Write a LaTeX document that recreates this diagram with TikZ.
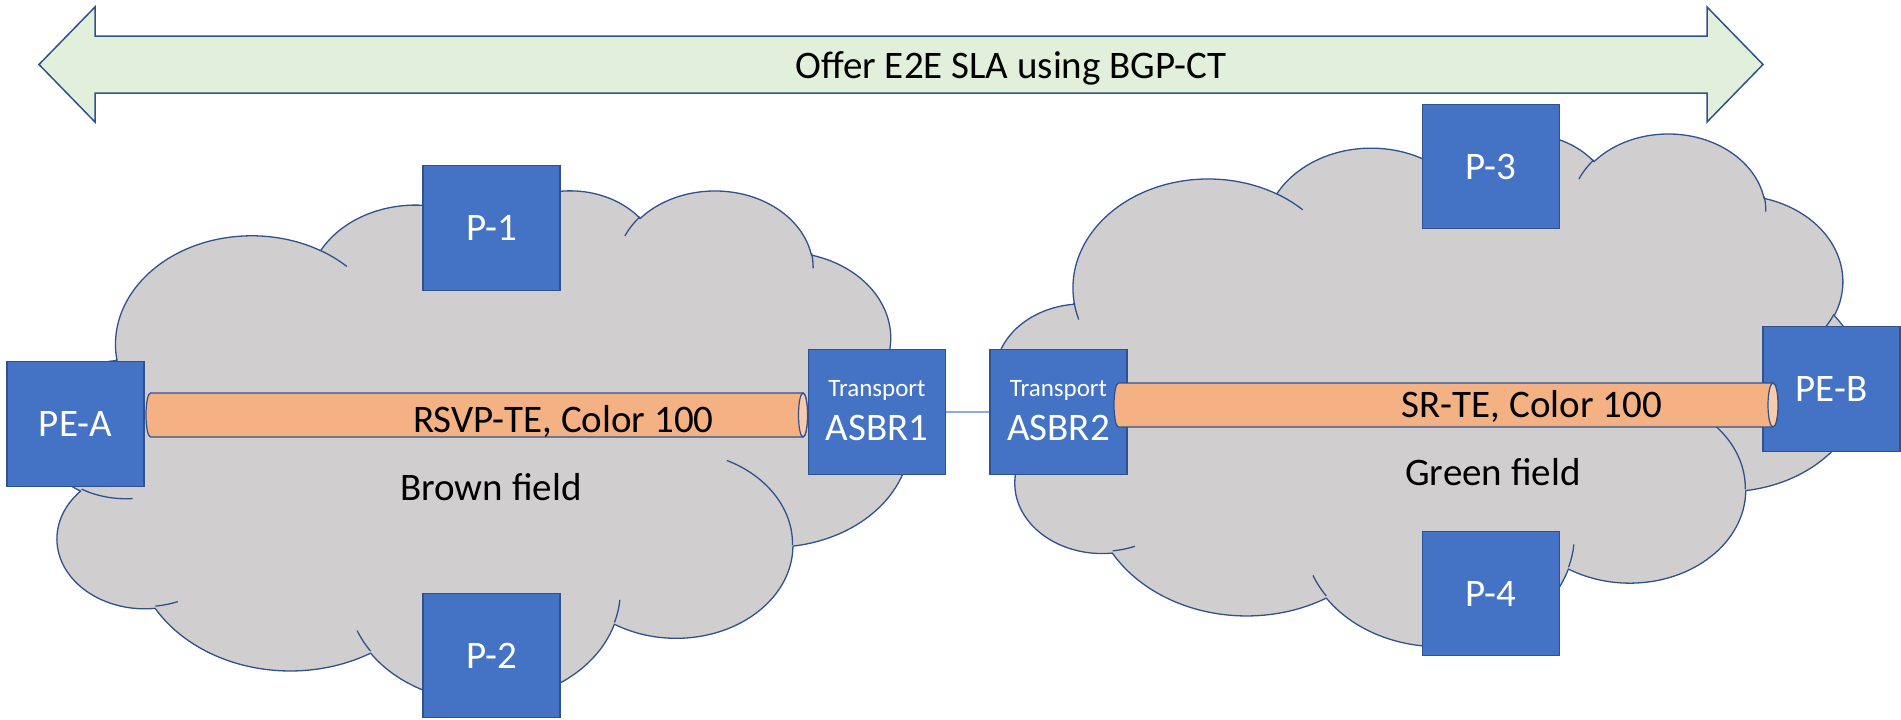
\documentclass[tikz,border=0pt]{standalone}
\usepackage{fontspec}
\setmainfont{Carlito}
\definecolor{edgeblue}{HTML}{2F528F}
\definecolor{boxfill}{HTML}{4472C4}
\definecolor{cloudfill}{HTML}{D0CECE}
\definecolor{arrowfill}{HTML}{E2EFDA}
\definecolor{tubefill}{HTML}{F4B183}
\definecolor{capfill}{HTML}{F8CBAD}
\definecolor{linkcol}{HTML}{8FAADC}
\newcommand\bigfont{\fontsize{39}{44}\selectfont}
\newcommand\smallfont{\fontsize{25}{30}\selectfont}
\makeatletter
\newcommand\cloudX{}\newcommand\cloudY{}\newcommand\cloudW{}\newcommand\cloudH{}
\newcommand\cloudpath{}
\newcommand\cloudmove[2]{%
  \pgfmathsetmacro\cl@mx{\cloudX+(#1)/43.2*\cloudW}%
  \pgfmathsetmacro\cl@my{\cloudY+(#2)/43.2*\cloudH}%
  \xdef\cloudpath{\cloudpath (\cl@mx,\cl@my)}%
}
\newcommand\cloudarc[4]{%
  \pgfmathsetmacro\cl@ta{atan2((#1)*sin(#3),(#2)*cos(#3))}%
  \pgfmathsetmacro\cl@tb{atan2((#1)*sin((#3)+(#4)),(#2)*cos((#3)+(#4)))}%
  \pgfmathsetmacro\cl@sa{-(\cl@ta)}%
  \pgfmathsetmacro\cl@da{-mod((\cl@tb)-(\cl@ta)+720,360)}%
  \pgfmathsetmacro\cl@rx{(#1)/43.2*\cloudW}%
  \pgfmathsetmacro\cl@ry{(#2)/43.2*\cloudH}%
  \xdef\cloudpath{\cloudpath arc[x radius=\cl@rx pt, y radius=\cl@ry pt, start angle=\cl@sa, delta angle=\cl@da]}%
}
\newcommand\drawcloud[4]{%
  \def\cloudX{#1}\def\cloudY{#2}\def\cloudW{#3}\def\cloudH{#4}%
  \gdef\cloudpath{}%
  \cloudmove{3.9}{14.37}%
  \cloudarc{6.753}{9.19}{-190.4875}{123.7805}%
  \cloudarc{5.333}{7.267}{-144.1024}{89.9452}%
  \cloudarc{4.365}{5.945}{-145.8079}{99.7230}%
  \cloudarc{4.857}{6.595}{-130.9861}{117.2417}%
  \cloudarc{5.333}{7.273}{-78.7089}{109.0269}%
  \cloudarc{6.775}{9.22}{-46.2673}{130.2690}%
  \cloudarc{5.785}{7.867}{0.6250}{114.0333}%
  \cloudarc{6.752}{9.215}{22.4516}{115.1726}%
  \cloudarc{7.72}{10.543}{66.2426}{75.7110}%
  \cloudarc{4.36}{5.918}{-274.9421}{146.7356}%
  \cloudarc{4.345}{5.945}{-246.8285}{152.5189}%
  \edef\cl@cmd{\noexpand\path[cloudshape] \cloudpath\space -- cycle;}\cl@cmd
  \gdef\cloudpath{}%
  \cloudmove{4.693}{26.177}\cloudarc{4.345}{5.945}{86.742}{26.4295}%
  \cloudmove{6.928}{34.899}\cloudarc{4.36}{5.918}{73.6105}{11.4475}%
  \cloudmove{16.478}{39.09}\cloudarc{6.752}{9.215}{137.6242}{14.0811}%
  \cloudmove{28.827}{34.751}\cloudarc{6.752}{9.215}{6.4533}{15.9984}%
  \cloudmove{34.129}{22.954}\cloudarc{5.785}{7.867}{-70.2924}{70.9174}%
  \cloudmove{41.798}{15.354}\cloudarc{5.333}{7.273}{30.318}{27.7515}%
  \cloudmove{38.324}{5.426}\cloudarc{4.857}{6.595}{-13.7443}{14.8589}%
  \cloudmove{29.078}{3.952}\cloudarc{4.857}{6.595}{-149.1815}{18.1954}%
  \cloudmove{22.141}{4.72}\cloudarc{4.365}{5.945}{-163.4943}{17.6864}%
  \cloudmove{14.0}{5.192}\cloudarc{6.753}{9.19}{-66.707}{12.3194}%
  \cloudmove{4.127}{15.789}\cloudarc{6.753}{9.19}{157.6544}{11.8582}%
  \edef\cl@cmd{\noexpand\path[cloudcrease] \cloudpath;}\cl@cmd
}
\makeatother
\tikzset{
  pbox/.style={rectangle, draw=edgeblue, line width=1.3pt, fill=boxfill,
    minimum width=137pt, minimum height=124.5pt, inner sep=0pt, text=white, font=\bigfont},
  lbl/.style={inner sep=0pt, font=\bigfont, text=black, anchor=base},
  wlbl/.style={inner sep=0pt, text=white, anchor=base},
  cloudshape/.style={fill=cloudfill, draw=edgeblue, line width=1.3pt, line join=round},
  cloudcrease/.style={draw=edgeblue, line width=1.3pt},
  tubebody/.style={fill=tubefill, draw=edgeblue, line width=1.2pt},
  tubecap/.style={fill=capfill, draw=edgeblue, line width=1.2pt},
  bigarrow/.style={fill=arrowfill, draw=edgeblue, line width=1.5pt, line join=miter},
  linkline/.style={draw=linkcol, line width=1.2pt},
}
\begin{document}
\begin{tikzpicture}[x=1pt,y=-1pt]
\useasboundingbox (0,0) rectangle (1901,720);
% double arrow
\path[bigarrow] (39,64.5) -- (95,7) -- (95,36) -- (1707,36) -- (1707,7) -- (1763,64.5)
  -- (1707,122) -- (1707,93) -- (95,93) -- (95,122) -- cycle;
\node[lbl] (offer) at (1011,78) {Offer E2E SLA using BGP-CT};
% clouds
\drawcloud{38}{189.2}{872}{510.5}
\drawcloud{996}{132.2}{866}{512.6}
% link between ASBRs
\node[pbox] (asbr1) at (877,412) {};
\node[pbox] (asbr2) at (1058.5,412) {};
\draw[linkline] (asbr1.east) -- (asbr2.west);
% boxes
\node[pbox] (pea) at (75.5,424) {PE-A};
\node[pbox] (p1) at (491.5,228) {P-1};
\node[pbox] (p2) at (491.5,655.5) {P-2};
\node[pbox] (p3) at (1491,166.5) {P-3};
\node[pbox] (p4) at (1491,593.5) {P-4};
\node[pbox] (peb) at (1831.5,389) {PE-B};
\node[wlbl, font=\smallfont] (asbr1t) at (877,396.7) {Transport};
\node[wlbl, font=\bigfont] (asbr1n) at (877,440) {ASBR1};
\node[wlbl, font=\smallfont] (asbr2t) at (1058.5,396.7) {Transport};
\node[wlbl, font=\bigfont] (asbr2n) at (1058.5,440) {ASBR2};
% tube 1
\path[tubebody] (150.5,393) -- (803,393) arc[x radius=4.5pt, y radius=22pt, start angle=90, end angle=-90]
  -- (150.5,437) arc[x radius=4.5pt, y radius=22pt, start angle=270, end angle=90] -- cycle;
\path[tubecap] (803,415) ellipse[x radius=4.5pt, y radius=22pt];
% tube 2
\path[tubebody] (1118.5,383) -- (1773,383) arc[x radius=5pt, y radius=22pt, start angle=90, end angle=-90]
  -- (1118.5,427) arc[x radius=4.5pt, y radius=22pt, start angle=270, end angle=90] -- cycle;
\path[tubecap] (1773,405) ellipse[x radius=5pt, y radius=22pt];
% texts
\node[lbl] (rsvp) at (563.5,432) {RSVP-TE, Color 100};
\node[lbl] (srte) at (1532,417.5) {SR-TE, Color 100};
\node[lbl] (brown) at (491,500) {Brown field};
\node[lbl] (green) at (1493,485) {Green field};
\end{tikzpicture}
\end{document}
